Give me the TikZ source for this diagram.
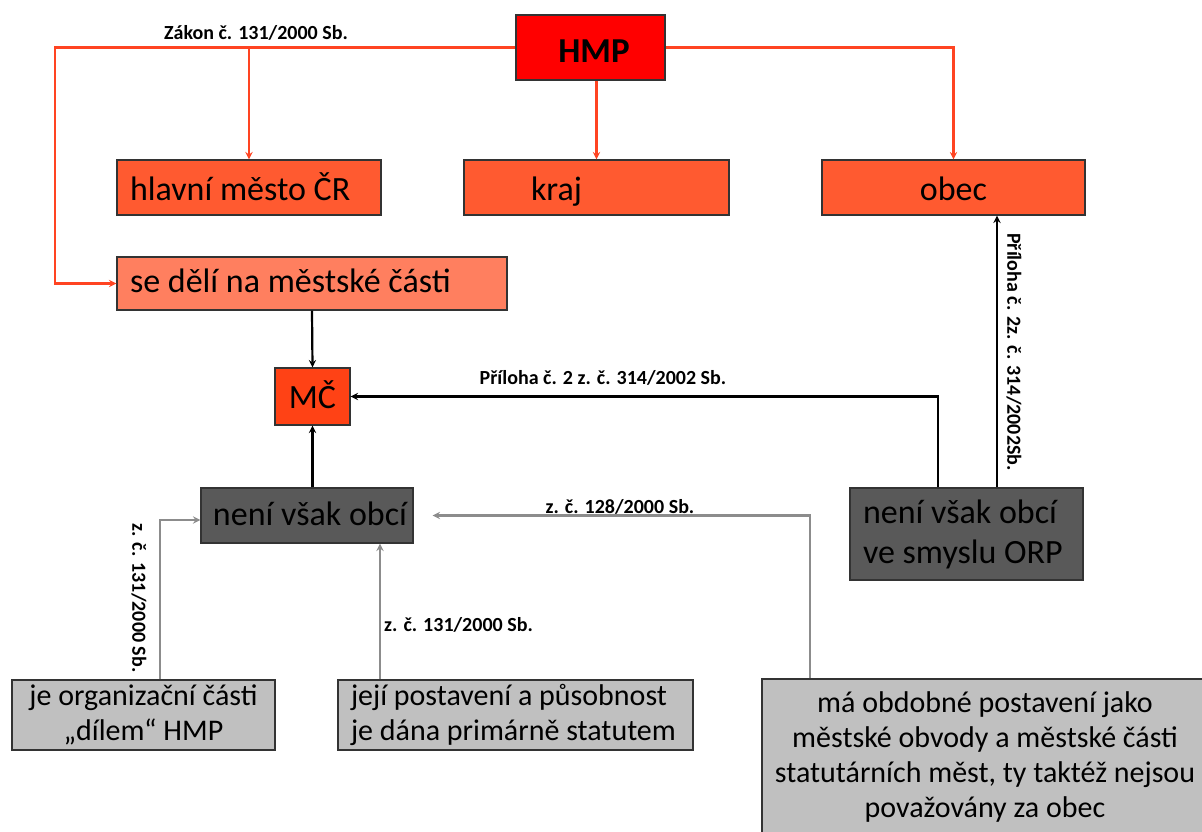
\documentclass[tikz,border=0pt]{standalone}
\usepackage{fontspec}
\setmainfont{Carlito}
\usetikzlibrary{arrows}
\definecolor{hmpred}{HTML}{FF0000}
\definecolor{boxorange}{HTML}{FF5A30}
\definecolor{boxsalmon}{HTML}{FF7F5F}
\definecolor{mcorange}{HTML}{FF4215}
\definecolor{darkbox}{HTML}{595959}
\definecolor{lightbox}{HTML}{C0C0C0}
\definecolor{redline}{HTML}{FF4422}
\definecolor{grayline}{HTML}{8C8C8C}
\begin{document}
\begin{tikzpicture}[>=stealth, x=1pt, y=-1pt,
  box/.style={draw=black!80, line width=1.4pt, inner sep=0pt, font=\fontsize{34}{40}\selectfont},
  lbox/.style={box, align=flush left, inner xsep=13pt},
  sbox/.style={box, fill=lightbox, font=\fontsize{30}{35}\selectfont},
  oneline/.style={text height=#1, text depth=8pt},
  lbl/.style={font=\fontsize{20}{24}\selectfont\bfseries, inner sep=1pt},
  redarr/.style={->, draw=redline, line width=2.2pt},
  blkarr/.style={->, draw=black, line width=2.2pt},
  grayarr/.style={->, draw=grayline, line width=2.2pt}]
\useasboundingbox (0,0) rectangle (1202,831);
% top level
\node[box, text height=33pt, text depth=4pt, fill=hmpred, line width=2.8pt, minimum width=149pt, minimum height=65pt, font=\fontsize{35}{40}\selectfont\bfseries] (hmp) at (590.5,47.5) {\hspace*{7pt}HMP};
\node[lbox, oneline=33pt, fill=boxorange, text width=238pt, minimum height=55pt] (hlavni) at (249,187.5) {hlavní město ČR};
\node[lbox, oneline=33pt, fill=boxorange, text width=239pt, minimum height=55pt] (kraj) at (596.5,187.5) {\hspace*{54pt}kraj};
\node[box, oneline=33pt, fill=boxorange, minimum width=263pt, minimum height=55pt] (obec) at (953.5,187.5) {obec};
\node[lbox, oneline=25pt, fill=boxsalmon, text width=364pt, minimum height=53pt] (casti) at (312,283.5) {se dělí na městské části};
% middle
\node[box, oneline=31pt, fill=mcorange, minimum width=75pt, minimum height=57pt] (mc) at (312.5,396.5) {MČ};
\node[box, oneline=27pt, fill=darkbox, minimum width=212pt, minimum height=55pt] (neni) at (307,515.5) {\hspace*{6pt}není však obcí};
\node[lbox, fill=darkbox, text width=207pt, minimum height=92pt] (orp) at (966.5,534) {není však obcí\\ve smyslu ORP};
% bottom
\node[sbox, align=center, minimum width=263pt, minimum height=70pt] (organ) at (143.5,715) {je organizační části\\„dílem“ HMP};
\node[sbox, align=flush left, inner xsep=13pt, text width=329pt, minimum height=70pt] (postav) at (515.5,715) {její postavení a působnost\\je dána primárně statutem};
\node[sbox, align=center, minimum width=446pt, minimum height=156pt] (obdob) at (985,757) {má obdobné postavení jako\\městské obvody a městské části\\statutárních měst, ty taktéž nejsou\\považovány za obec};
% red connectors
\coordinate (lft) at (55,283.5);
\draw[redarr] (hmp.west) -| (hlavni.north);
\draw[redarr] (hmp.west) -| (lft) -- (casti.west);
\draw[redarr] (hmp.south -| kraj.north) -- (kraj.north);
\draw[redarr] (hmp.east) -| (obec.north);
\node[lbl] (zakon) at (256,33) {Zákon č. 131/2000 Sb.};
% black connectors
\draw[blkarr] (casti.south) -- (mc.north);
\draw[blkarr] (mc.south |- neni.north) -- (mc.south);
\draw[blkarr] ([xshift=-28.5pt]orp.north) |- (mc.east);
\draw[blkarr] ([xshift=30.5pt]orp.north) -- ([xshift=30.5pt]orp.north |- obec.south);
\node[lbl] (priloha) at (603,378) {Příloha č. 2 z. č. 314/2002 Sb.};
\node[lbl, rotate=-90] (prilohab) at (1014,352) {Příloha č. 2z. č. 314/2002Sb.};
% gray connectors
\draw[grayarr] ([xshift=-175pt]obdob.north) |- ([xshift=19pt]neni.east);
\draw[grayarr] ([xshift=-135.5pt]postav.north) -- ([xshift=-135.5pt]postav.north |- neni.south);
\draw[grayarr] ([xshift=16.5pt]organ.north) |- ([yshift=-4.5pt]neni.west);
\node[lbl] (zakonb) at (620,507) {z. č. 128/2000 Sb.};
\node[lbl, anchor=west] (zakonc) at (383,625) {z. č. 131/2000 Sb.};
\node[lbl, rotate=-90] (zakond) at (139,598) {z. č. 131/2000 Sb.};
\end{tikzpicture}
\end{document}
